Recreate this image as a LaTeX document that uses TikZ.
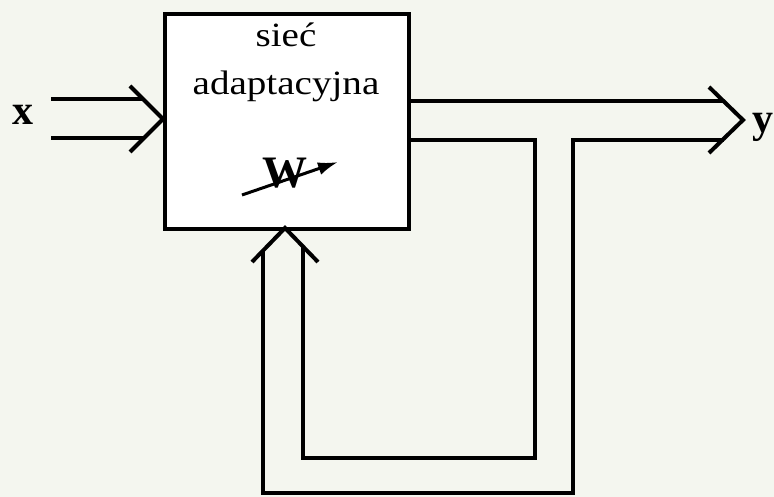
\documentclass[tikz,border=0pt]{standalone}
\usepackage{fontspec}
\setmainfont{Liberation Serif}
\newfontfamily\widefont[FakeStretch=1.15]{Liberation Serif}
\usetikzlibrary{arrows.meta}
\definecolor{bgcol}{RGB}{244,246,239}
\begin{document}
\begin{tikzpicture}[x=1pt,y=-1pt,
  wire/.style={draw=black,line width=4pt,line join=miter},
  chev/.style={draw=black,line width=4pt,line join=miter},
  boxstyle/.style={draw=black,line width=4pt,fill=white,inner sep=0pt,minimum width=244pt,minimum height=215pt,anchor=north west},
  boxtext/.style={font=\widefont\fontsize{34}{34}\selectfont,anchor=base,inner sep=0pt},
  lab/.style={font=\fontsize{42}{42}\selectfont\bfseries,anchor=base west,inner sep=0pt}]
\fill[bgcol] (0,0) rectangle (774,497);
\useasboundingbox (0,0) rectangle (774,497);
\node[boxstyle] (net) at (163,12) {};
\node[boxtext] (t1) at (286,47) {sieć};
\node[boxtext] (t2) at (286,95) {adaptacyjna};
\node[font=\fontsize{45}{45}\selectfont\bfseries,anchor=base,inner sep=0pt] (w) at (285,188) {W};
\coordinate (wa) at (242,195);
\coordinate (wb) at (338,162);
\draw[line width=3pt,-{Latex[length=20pt,width=13pt]}] (wa) -- (wb);
% input
\node[lab] (xl) at (12,125) {x};
\coordinate (i1s) at (51,99);  \coordinate (i1e) at (143,99);
\coordinate (i2s) at (51,138); \coordinate (i2e) at (144,138);
\coordinate (ia1) at (130,86); \coordinate (iap) at (163,119); \coordinate (ia2) at (130,152);
\draw[wire] (i1s) -- (i1e);
\draw[wire] (i2s) -- (i2e);
\draw[chev] (ia1) -- (iap) -- (ia2);
% output
\node[lab] (yl) at (752,133) {y};
\coordinate (o1s) at (407,101); \coordinate (o1e) at (724,101);
\coordinate (oa1) at (709,87); \coordinate (oap) at (743,120); \coordinate (oa2) at (709,153);
\coordinate (o2e) at (724,140);
\draw[wire] (o1s) -- (o1e);
\draw[chev] (oa1) -- (oap) -- (oa2);
% inner feedback
\coordinate (f1a) at (407,140); \coordinate (f1b) at (535,140);
\coordinate (f1c) at (535,458);  \coordinate (f1d) at (303,458);
\coordinate (f1e) at (303,246);
\draw[wire] (f1a) -- (f1b) -- (f1c) -- (f1d) -- (f1e);
% outer feedback
\coordinate (f2b) at (573,140);
\coordinate (f2c) at (573,493);  \coordinate (f2d) at (263,493);
\coordinate (f2e) at (263,250);
\draw[wire] (o2e) -- (f2b) -- (f2c) -- (f2d) -- (f2e);
% bottom chevron
\coordinate (ba1) at (252,262); \coordinate (bap) at (285,228); \coordinate (ba2) at (318,262);
\draw[chev] (ba1) -- (bap) -- (ba2);
\end{tikzpicture}
\end{document}
